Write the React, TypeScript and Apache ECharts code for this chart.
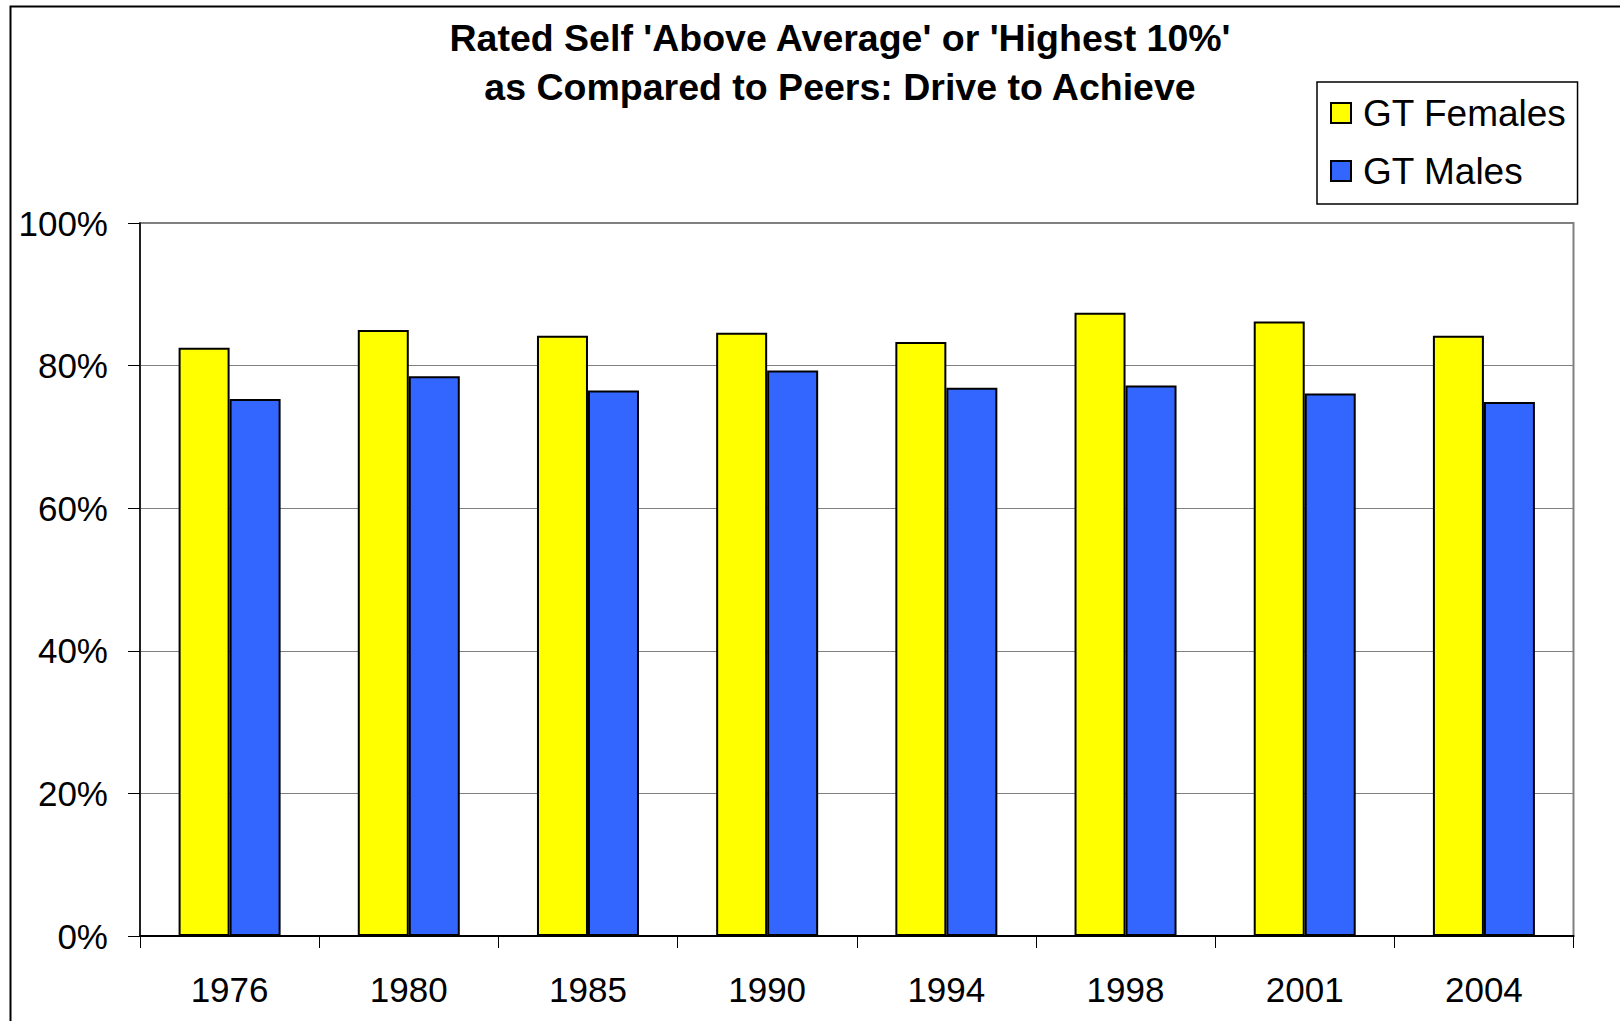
import React, { useEffect, useRef } from "react";
import * as echarts from "echarts";

const titleLines = ["Rated Self 'Above Average' or 'Highest 10%'", "as Compared to Peers: Drive to Achieve"];
const years = ["1976", "1980", "1985", "1990", "1994", "1998", "2001", "2004"];
const females = [82.5, 85.0, 84.2, 84.6, 83.3, 87.4, 86.2, 84.2];
const males = [75.3, 78.5, 76.5, 79.3, 76.9, 77.2, 76.1, 74.9];
const seriesNames = ["GT Females", "GT Males"];
const yTicks = { min: 0, max: 100, interval: 20 };

const FONT = "'Liberation Sans', Arial, sans-serif";

export default function App() {
  const ref = useRef<HTMLDivElement>(null);
  useEffect(() => {
    document.body.style.margin = "0";
    const chart = echarts.init(ref.current!, null, { renderer: "svg" });
    chart.setOption({
      animation: false,
      backgroundColor: "#fff",
      textStyle: { fontFamily: FONT },
      title: {
        text: titleLines.join("\n"),
        left: 840,
        top: 13,
        textAlign: "center",
        padding: 0,
        textStyle: { fontFamily: FONT, fontSize: 37.5, fontWeight: "bold", color: "#000", lineHeight: 49.5 },
      },
      graphic: [
        {
          type: "rect",
          shape: { x: 10.5, y: 6.5, width: 1700, height: 1100 },
          style: { fill: "none", stroke: "#000", lineWidth: 2 },
          silent: true,
          z: -1,
        },
      ],
      legend: {
        orient: "vertical",
        left: 1317,
        top: 82,
        padding: [11, 11, 13, 13],
        itemWidth: 20,
        itemHeight: 20,
        itemGap: 18,
        icon: "rect",
        borderColor: "#000",
        borderWidth: 1.5,
        backgroundColor: "#fff",
        itemStyle: { borderColor: "#000", borderWidth: 2 },
        textStyle: { fontFamily: FONT, fontSize: 37, color: "#000", lineHeight: 40, padding: [0, 0, 0, 7] },
        data: seriesNames,
      },
      grid: {
        left: 140,
        top: 223,
        right: 46.5,
        bottom: 85,
        show: true,
        borderColor: "#808080",
        borderWidth: 2,
        outerBoundsMode: "none",
      },
      xAxis: {
        type: "category",
        data: years,
        axisLine: { show: true, lineStyle: { color: "#000", width: 2 } },
        axisTick: { show: true, length: 12, lineStyle: { color: "#000", width: 1 } },
        axisLabel: { fontFamily: FONT, fontSize: 35, color: "#000", margin: 36 },
        splitLine: { show: false },
      },
      yAxis: {
        type: "value",
        min: yTicks.min,
        max: yTicks.max,
        interval: yTicks.interval,
        axisLine: { show: true, lineStyle: { color: "#000", width: 1.5 } },
        axisTick: { show: true, length: 12, lineStyle: { color: "#000", width: 1 } },
        axisLabel: { fontFamily: FONT, fontSize: 35, color: "#000", margin: 32, formatter: "{value}%" },
        splitLine: { show: true, lineStyle: { color: "#808080", width: 1 } },
      },
      series: [
        {
          name: seriesNames[0],
          type: "bar",
          data: females,
          barWidth: 51,
          barGap: "0%",
          itemStyle: { color: "#FFFF00", borderColor: "#000", borderWidth: 2 },
        },
        {
          name: seriesNames[1],
          type: "bar",
          data: males,
          barWidth: 51,
          barGap: "0%",
          itemStyle: { color: "#3366FF", borderColor: "#000", borderWidth: 2 },
        },
      ],
    });
    return () => chart.dispose();
  }, []);
  return <div ref={ref} style={{ position: "absolute", left: 0, top: 0, width: 1620, height: 1021 }} />;
}
